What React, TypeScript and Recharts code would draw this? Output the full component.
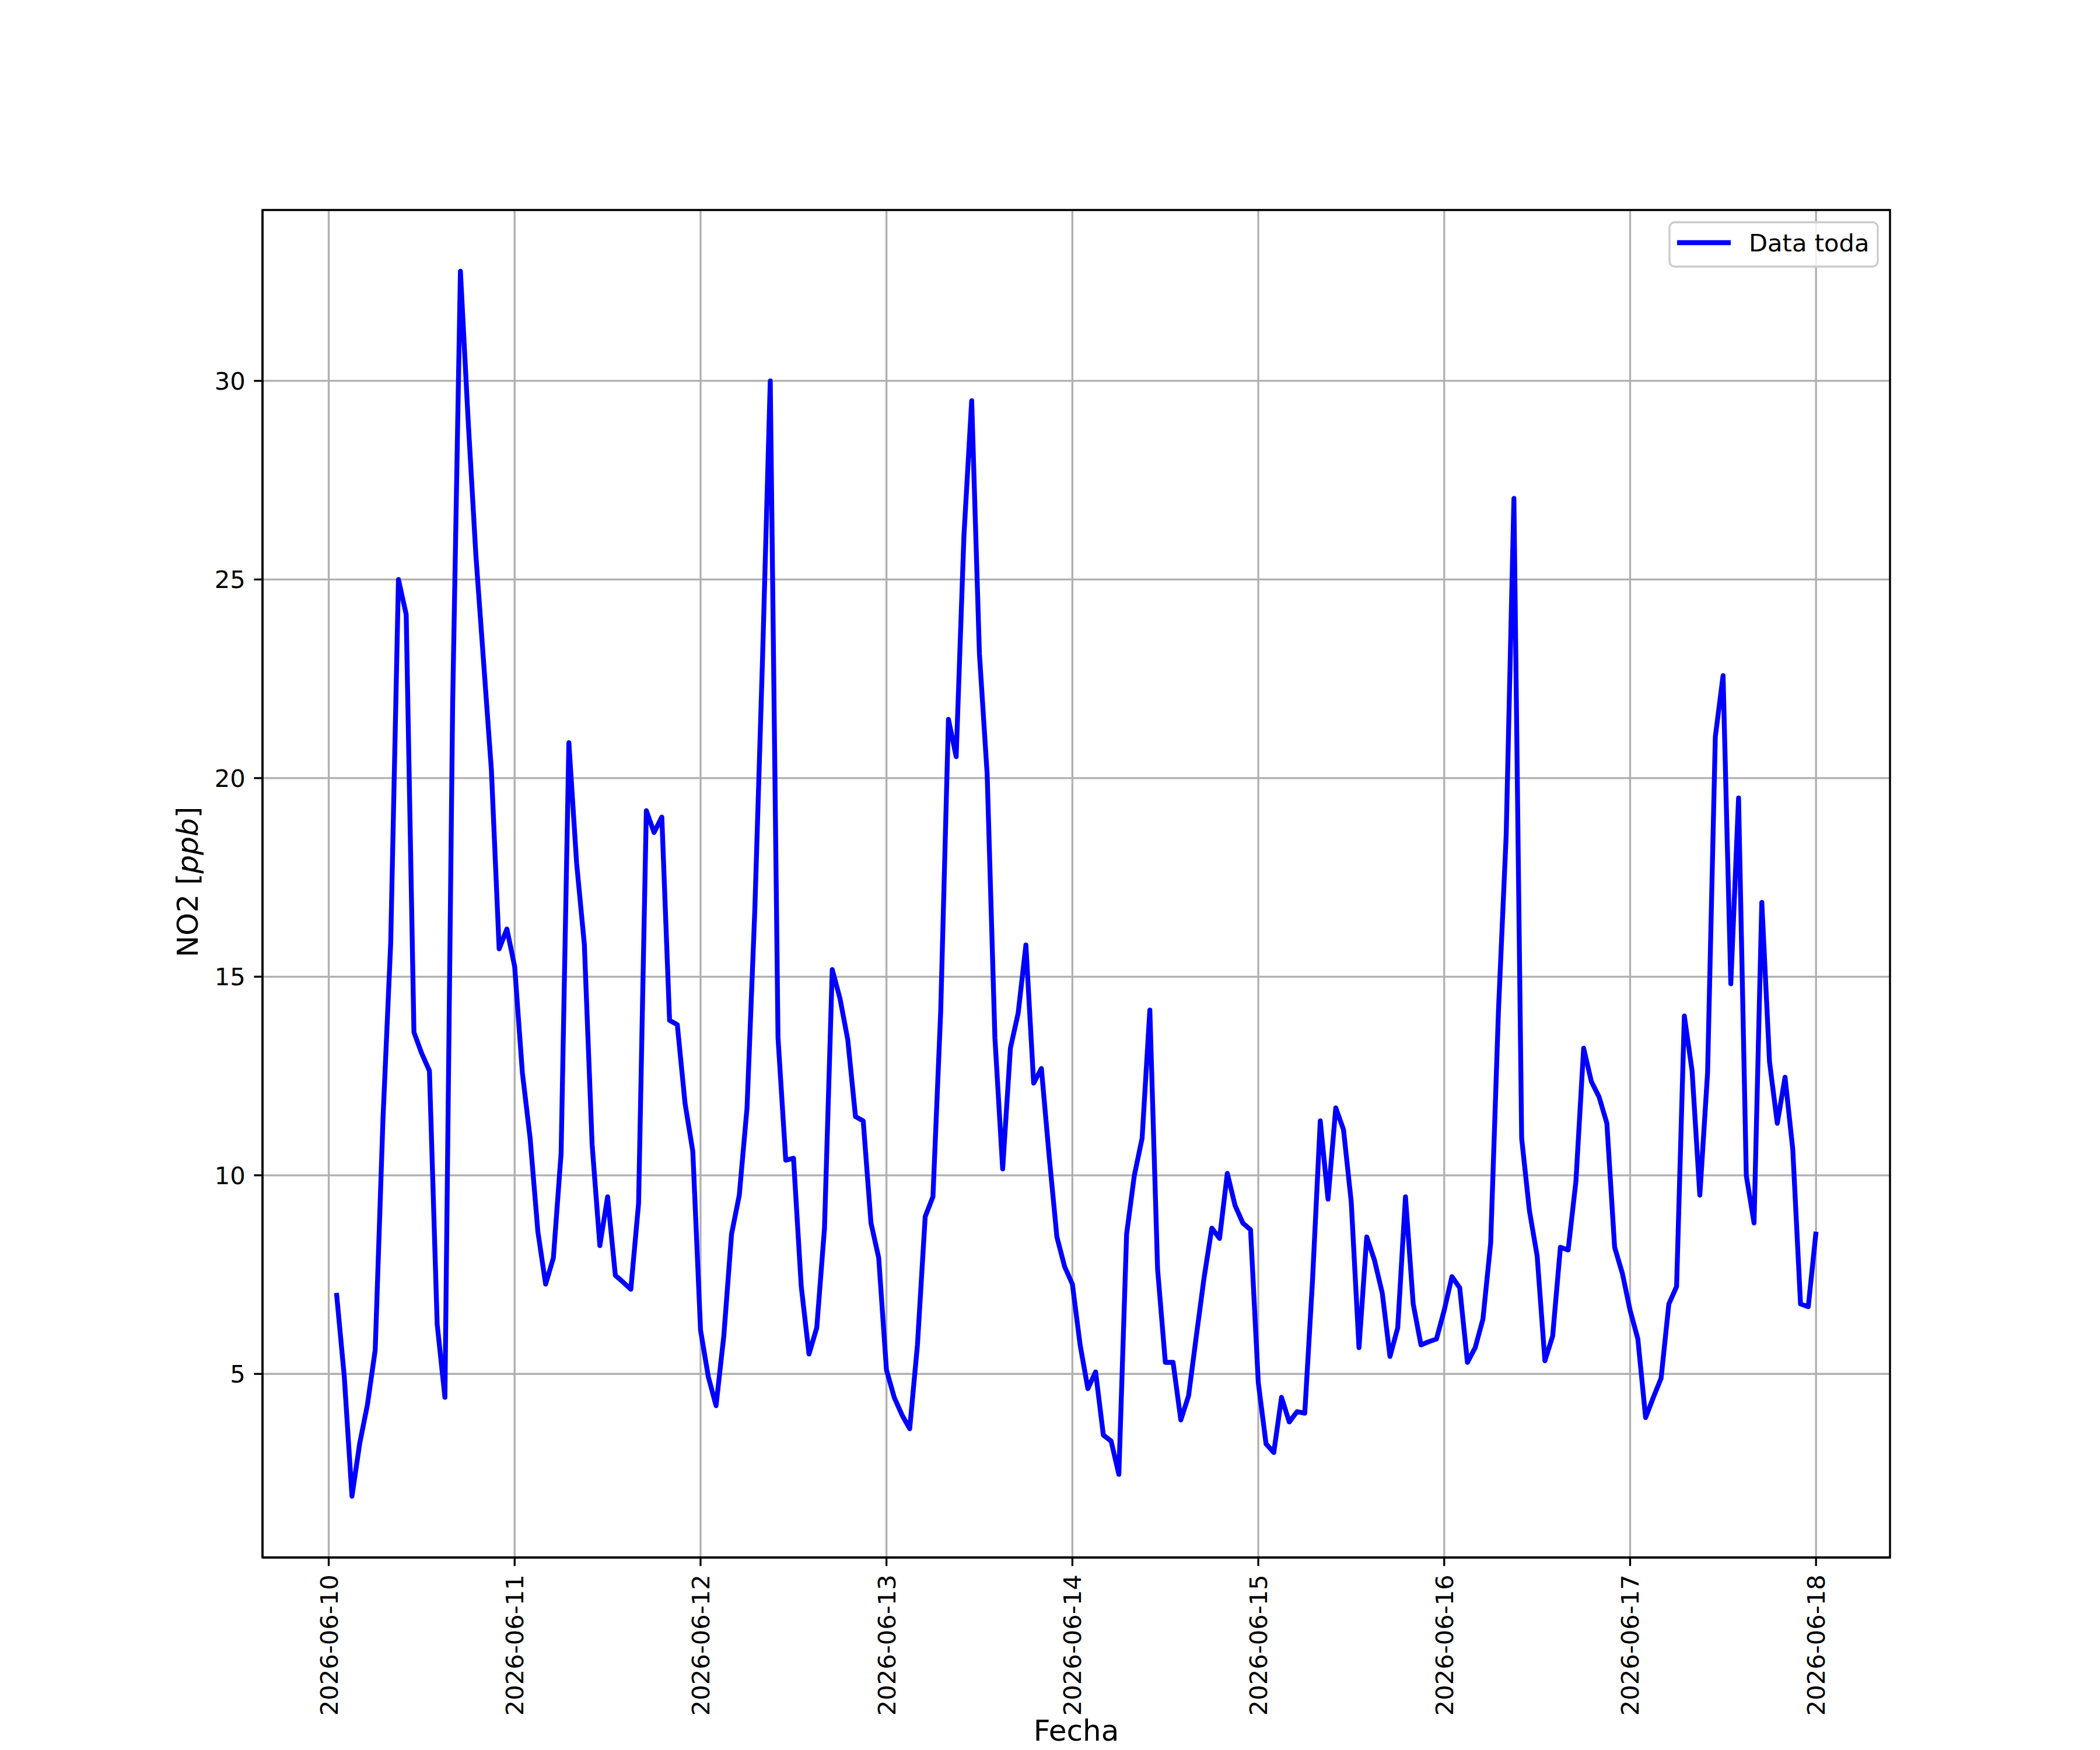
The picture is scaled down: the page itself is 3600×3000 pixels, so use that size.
import React from 'react';
import { LineChart, Line, XAxis, YAxis, CartesianGrid, Legend, ReferenceArea } from 'recharts';

// hourly NO2 readings, each array runs from 01:00 of the day to 00:00 of the next
const day0610 = [7.04, 4.95, 1.92, 3.25, 4.23, 5.6, 11.4, 15.85, 25.0, 24.12, 13.6, 13.07, 12.63, 6.25, 4.41, 21.9, 32.76, 29.0, 25.6, 22.9, 20.2, 15.7, 16.2, 15.26];
const day0611 = [12.58, 10.93, 8.58, 7.26, 7.92, 10.56, 20.89, 17.86, 15.81, 10.78, 8.23, 9.46, 7.48, 7.31, 7.13, 9.29, 19.18, 18.63, 19.02, 13.9, 13.79, 11.81, 10.6, 6.1];
const day0612 = [4.93, 4.2, 5.95, 8.52, 9.5, 11.7, 16.65, 23.0, 30.0, 13.46, 10.38, 10.43, 7.2, 5.5, 6.16, 8.67, 15.18, 14.45, 13.42, 11.48, 11.37, 8.8, 7.92, 5.1];
const day0613 = [4.41, 3.97, 3.62, 5.73, 8.96, 9.46, 14.12, 21.48, 20.54, 26.1, 29.5, 23.13, 20.1, 13.46, 10.16, 13.2, 14.08, 15.8, 12.32, 12.69, 10.49, 8.45, 7.7, 7.26];
const day0614 = [5.73, 4.63, 5.05, 3.46, 3.31, 2.47, 8.52, 10.0, 10.93, 14.16, 7.64, 5.29, 5.29, 3.84, 4.45, 5.95, 7.42, 8.67, 8.41, 10.05, 9.24, 8.8, 8.63, 4.78];
const day0615 = [3.24, 3.02, 4.41, 3.79, 4.05, 4.01, 7.35, 11.37, 9.4, 11.7, 11.15, 9.33, 5.66, 8.45, 7.86, 7.04, 5.44, 6.16, 9.46, 6.76, 5.73, 5.81, 5.88, 6.6];
const day0616 = [7.45, 7.17, 5.29, 5.66, 6.38, 8.3, 14.12, 18.56, 27.04, 10.93, 9.11, 7.97, 5.33, 5.95, 8.19, 8.12, 9.84, 13.2, 12.36, 11.97, 11.31, 8.19, 7.53, 6.6];
const day0617 = [5.88, 3.9, 4.41, 4.89, 6.76, 7.2, 14.01, 12.63, 9.5, 12.58, 21.04, 22.58, 14.82, 19.5, 9.99, 8.8, 16.87, 12.85, 11.31, 12.47, 10.65, 6.76, 6.69, 8.58];

const dateLabels = ['2026-06-10', '2026-06-11', '2026-06-12', '2026-06-13', '2026-06-14', '2026-06-15', '2026-06-16', '2026-06-17', '2026-06-18'];
const yTicks = [5, 10, 15, 20, 25, 30];

const no2 = [...day0610, ...day0611, ...day0612, ...day0613, ...day0614, ...day0615, ...day0616, ...day0617];
const data = no2.map((v, i) => ({ hour: i + 1, no2: v }));

// matplotlib style 5% margins
const xFirst = data[0].hour;
const xLast = data[data.length - 1].hour;
const xPad = (xLast - xFirst) * 0.05;
const xDomain: [number, number] = [xFirst - xPad, xLast + xPad];
const yMinV = Math.min(...no2);
const yMaxV = Math.max(...no2);
const yPad = (yMaxV - yMinV) * 0.05;
const yDomain: [number, number] = [yMinV - yPad, yMaxV + yPad];
const xTicks = dateLabels.map((_, i) => i * 24);

const FONT = 'DejaVu Sans';
const FS = 41.67;
const LABEL_FS = 50;
const LW = 3.33;
const SERIES_W = 8.33;

function DateTick(props: any) {
    const { x, y, payload } = props;
    return (
        <g transform={`translate(${x},${y})`}>
            <text transform="rotate(-90)" textAnchor="end" dy="0.36em" fontFamily={FONT} fontSize={FS} fill="#000">
                {dateLabels[Math.round(payload.value / 24)]}
            </text>
        </g>
    );
}

function YLabel() {
    return (
        <text x={0} y={0} transform="translate(339,1512) rotate(-90)" textAnchor="middle" fontFamily={FONT} fontSize={LABEL_FS} fill="#000">
            NO2 [<tspan fontStyle="italic">ppb</tspan>]
        </text>
    );
}

function XLabel() {
    return (
        <text x={1845} y={2984} textAnchor="middle" fontFamily={FONT} fontSize={LABEL_FS} fill="#000">
            Fecha
        </text>
    );
}

function LegendBox() {
    return (
        <svg width={400} height={100} style={{ display: 'block' }}>
            <rect x={12} y={11} width={357} height={76} rx={9} fill="rgba(255,255,255,0.8)" stroke="#cccccc" strokeWidth={LW} />
            <line x1={25} x2={117} y1={46} y2={46} stroke="#0000ff" strokeWidth={SERIES_W} />
            <text x={148} y={61} fontFamily={FONT} fontSize={FS} fill="#000">Data toda</text>
        </svg>
    );
}

export default function App() {
    return (
        <div style={{ position: 'absolute', left: 0, top: 0, width: 3600, height: 3000, background: '#fff' }}>
            <LineChart width={3600} height={3000} data={data} margin={{ top: 360, right: 360, bottom: 30, left: 300 }}>
                <CartesianGrid stroke="#b0b0b0" strokeWidth={LW} />
                <XAxis
                    dataKey="hour"
                    type="number"
                    domain={xDomain}
                    ticks={xTicks}
                    allowDataOverflow
                    height={300}
                    tickSize={14.6}
                    tickMargin={14.6}
                    tick={<DateTick />}
                    tickLine={{ stroke: '#000', strokeWidth: LW }}
                    axisLine={{ stroke: '#000', strokeWidth: LW }}
                    label={<XLabel />}
                />
                <YAxis
                    type="number"
                    domain={yDomain}
                    ticks={yTicks}
                    allowDataOverflow
                    width={150}
                    tickSize={14.6}
                    tickMargin={14.6}
                    tick={{ fontFamily: FONT, fontSize: FS, fill: '#000' }}
                    tickLine={{ stroke: '#000', strokeWidth: LW }}
                    axisLine={{ stroke: '#000', strokeWidth: LW }}
                    label={<YLabel />}
                />
                <Line
                    type="linear"
                    dataKey="no2"
                    name="Data toda"
                    stroke="#0000ff"
                    strokeWidth={SERIES_W}
                    strokeLinejoin="round"
                    dot={false}
                    activeDot={false}
                    isAnimationActive={false}
                />
                <ReferenceArea x1={xDomain[0]} x2={xDomain[1]} y1={yDomain[0]} y2={yDomain[1]} fill="none" stroke="#000" strokeWidth={LW} ifOverflow="visible" />
                <Legend
                    layout="horizontal"
                    verticalAlign="middle"
                    align="center"
                    content={<LegendBox />}
                    wrapperStyle={{ position: 'absolute', left: 2850, top: 370, width: 400, height: 100 }}
                />
            </LineChart>
        </div>
    );
}
